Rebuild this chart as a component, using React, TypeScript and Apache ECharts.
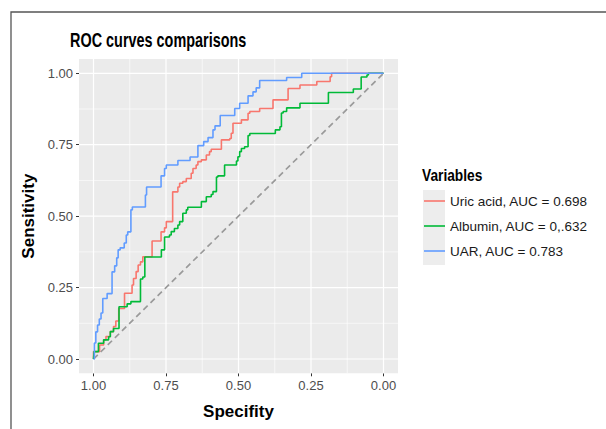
import React, { useEffect, useRef } from 'react';
import * as echarts from 'echarts';

const REG = "'Liberation Sans', Arial, sans-serif";

const majorTicks = [0, 0.25, 0.5, 0.75, 1];
const minorTicks = [0.125, 0.375, 0.625, 0.875];

const seriesNames = ['Uric acid, AUC = 0.698', 'Albumin, AUC = 0,.632', 'UAR, AUC = 0.783'];
const seriesColors = ['#F8766D', '#00BA38', '#619CFF'];

const uricSpec = [1.0, 1.0, 0.979, 0.965, 0.957, 0.942, 0.931, 0.923, 0.913, 0.893, 0.867, 0.862, 0.853, 0.846, 0.838, 0.83, 0.798, 0.767, 0.755, 0.749, 0.727, 0.709, 0.703, 0.692, 0.68, 0.663, 0.657, 0.646, 0.64, 0.628, 0.611, 0.6, 0.594, 0.559, 0.53, 0.525, 0.519, 0.49, 0.467, 0.461, 0.427, 0.381, 0.329, 0.288, 0.23, 0.184, 0.179, 0.0];
const uricSens = [0.0, 0.026, 0.049, 0.067, 0.079, 0.096, 0.114, 0.133, 0.177, 0.23, 0.259, 0.282, 0.306, 0.329, 0.34, 0.358, 0.413, 0.445, 0.459, 0.481, 0.585, 0.602, 0.615, 0.621, 0.632, 0.65, 0.667, 0.679, 0.691, 0.697, 0.714, 0.726, 0.734, 0.767, 0.772, 0.79, 0.825, 0.837, 0.86, 0.866, 0.877, 0.907, 0.947, 0.959, 0.971, 0.988, 1.0, 1.0];

const albSpec = [1.0, 0.998, 0.983, 0.965, 0.948, 0.942, 0.931, 0.912, 0.884, 0.871, 0.838, 0.83, 0.823, 0.766, 0.755, 0.738, 0.732, 0.721, 0.709, 0.703, 0.692, 0.68, 0.675, 0.628, 0.611, 0.594, 0.588, 0.576, 0.571, 0.548, 0.507, 0.502, 0.496, 0.49, 0.479, 0.467, 0.461, 0.373, 0.357, 0.352, 0.346, 0.334, 0.288, 0.19, 0.104, 0.077, 0.057, 0.052, 0.0];
const albSens = [0.0, 0.026, 0.055, 0.067, 0.078, 0.096, 0.107, 0.183, 0.193, 0.201, 0.28, 0.287, 0.357, 0.382, 0.427, 0.434, 0.446, 0.457, 0.469, 0.481, 0.51, 0.522, 0.531, 0.551, 0.568, 0.576, 0.586, 0.637, 0.641, 0.679, 0.693, 0.708, 0.726, 0.737, 0.743, 0.782, 0.789, 0.802, 0.813, 0.861, 0.866, 0.879, 0.895, 0.933, 0.945, 0.987, 0.994, 1.0, 1.0];

const uarSpec = [1.0, 0.997, 0.992, 0.986, 0.98, 0.974, 0.968, 0.953, 0.936, 0.927, 0.92, 0.915, 0.908, 0.894, 0.887, 0.882, 0.871, 0.866, 0.821, 0.817, 0.767, 0.755, 0.749, 0.709, 0.667, 0.64, 0.62, 0.605, 0.588, 0.581, 0.563, 0.513, 0.496, 0.467, 0.45, 0.439, 0.427, 0.334, 0.282, 0.0];
const uarSens = [0.0, 0.056, 0.095, 0.119, 0.14, 0.161, 0.212, 0.229, 0.305, 0.326, 0.354, 0.382, 0.389, 0.406, 0.434, 0.445, 0.522, 0.532, 0.574, 0.602, 0.641, 0.667, 0.679, 0.695, 0.707, 0.747, 0.761, 0.775, 0.802, 0.816, 0.852, 0.877, 0.895, 0.921, 0.935, 0.949, 0.975, 0.985, 1.0, 1.0];

const refSpec = [1, 0];
const refSens = [0, 1];

const AX_MIN = -0.05;
const AX_MAX = 1.05;

function legendFont(): { family: string; size: number } {
  try {
    const c = document.createElement('canvas').getContext('2d');
    if (c) {
      c.font = "16px 'Liberation Sans Narrow', monospace";
      const a = c.measureText(seriesNames[0]).width;
      c.font = '16px monospace';
      const b = c.measureText(seriesNames[0]).width;
      if (Math.abs(a - b) > 1 && a < 150) return { family: "'Liberation Sans Narrow', sans-serif", size: 16 };
    }
  } catch (e) {
    /* ignore */
  }
  return { family: REG, size: 13.5 };
}

export default function App() {
  const ref = useRef<HTMLDivElement>(null);
  useEffect(() => {
    const chart = echarts.init(ref.current!, null, { renderer: 'svg' });
    const pairs = (s: number[], t: number[]) => s.map((v, i) => [v, t[i]]);
    const curves = [pairs(uricSpec, uricSens), pairs(albSpec, albSens), pairs(uarSpec, uarSens)];
    const fmt = (v: number) => v.toFixed(2);
    const lf = legendFont();
    const axisCommon = (name: string, isY: boolean) => ({
      type: 'value',
      min: AX_MIN,
      max: AX_MAX,
      inverse: !isY,
      name,
      nameLocation: 'middle',
      nameGap: isY ? 37 : 30,
      nameTextStyle: { fontFamily: REG, fontWeight: 'bold', fontSize: 17, color: '#000' },
      axisLine: { show: false, onZero: false },
      axisTick: { show: true, length: 3, lineStyle: { color: '#333', width: 1 }, customValues: majorTicks },
      axisLabel: { customValues: majorTicks, formatter: fmt, margin: 6, color: '#4D4D4D', fontSize: 13, fontFamily: REG },
      splitLine: { show: false },
    });
    const gridLines = (vertical: boolean) => ({
      type: 'custom',
      silent: true,
      z: 1,
      clip: false,
      data: [...majorTicks.map((v) => [v, 1.2]), ...minorTicks.map((v) => [v, 0.6])],
      renderItem: (_p: any, api: any) => {
        const v = api.value(0);
        const w = api.value(1);
        const a = vertical ? api.coord([v, AX_MIN]) : api.coord([AX_MIN, v]);
        const b = vertical ? api.coord([v, AX_MAX]) : api.coord([AX_MAX, v]);
        return { type: 'line', shape: { x1: a[0], y1: a[1], x2: b[0], y2: b[1] }, style: { stroke: '#ffffff', lineWidth: w } };
      },
    });
    const option: any = {
      animation: false,
      grid: { left: 79, top: 59, width: 319, height: 314.3, show: true, backgroundColor: '#EBEBEB', borderWidth: 0 },
      xAxis: axisCommon('Specifity', false),
      yAxis: axisCommon('Sensitivity', true),
      legend: {
        orient: 'vertical',
        left: 424,
        top: 194,
        padding: 0,
        icon: 'rect',
        itemWidth: 21,
        itemHeight: 1.6,
        itemGap: 24.5 - lf.size,
        data: seriesNames,
        textStyle: { fontFamily: lf.family, fontSize: lf.size, color: '#1a1a1a' },
      },
      graphic: [
        { type: 'polyline', shape: { points: [[11, 429], [11, 12], [606, 12]] }, style: { stroke: '#555', lineWidth: 1.3, fill: null }, silent: true },
        { type: 'rect', shape: { x: 423, y: 190, width: 22, height: 75 }, style: { fill: '#EDEDED' }, silent: true, z: -1 },
        {
          type: 'text', x: 70, y: 40.5, scaleX: 0.74, silent: true,
          style: { text: 'ROC curves comparisons', fontFamily: REG, fontWeight: 'bold', fontSize: 19.5, fill: '#000', align: 'left', verticalAlign: 'middle' },
        },
        {
          type: 'text', x: 422, y: 175.5, scaleX: 0.86, silent: true,
          style: { text: 'Variables', fontFamily: REG, fontWeight: 'bold', fontSize: 16, fill: '#000', align: 'left', verticalAlign: 'middle' },
        },
      ],
      series: [
        gridLines(true),
        gridLines(false),
        {
          type: 'line', name: 'reference', data: pairs(refSpec, refSens), symbol: 'none', silent: true,
          lineStyle: { color: '#9A9A9A', width: 1.7, type: [6, 4] }, z: 2,
        },
        ...curves.map((d, i) => ({
          type: 'line', name: seriesNames[i], data: d, step: 'end', symbol: 'none', showSymbol: false,
          color: seriesColors[i], itemStyle: { color: seriesColors[i] },
          lineStyle: { color: seriesColors[i], width: 1.6 }, z: 3 + i,
        })),
      ],
    };
    chart.setOption(option);
    return () => chart.dispose();
  }, []);
  return <div ref={ref} style={{ position: 'fixed', left: 0, top: 0, width: 606, height: 429, background: '#fff' }} />;
}
